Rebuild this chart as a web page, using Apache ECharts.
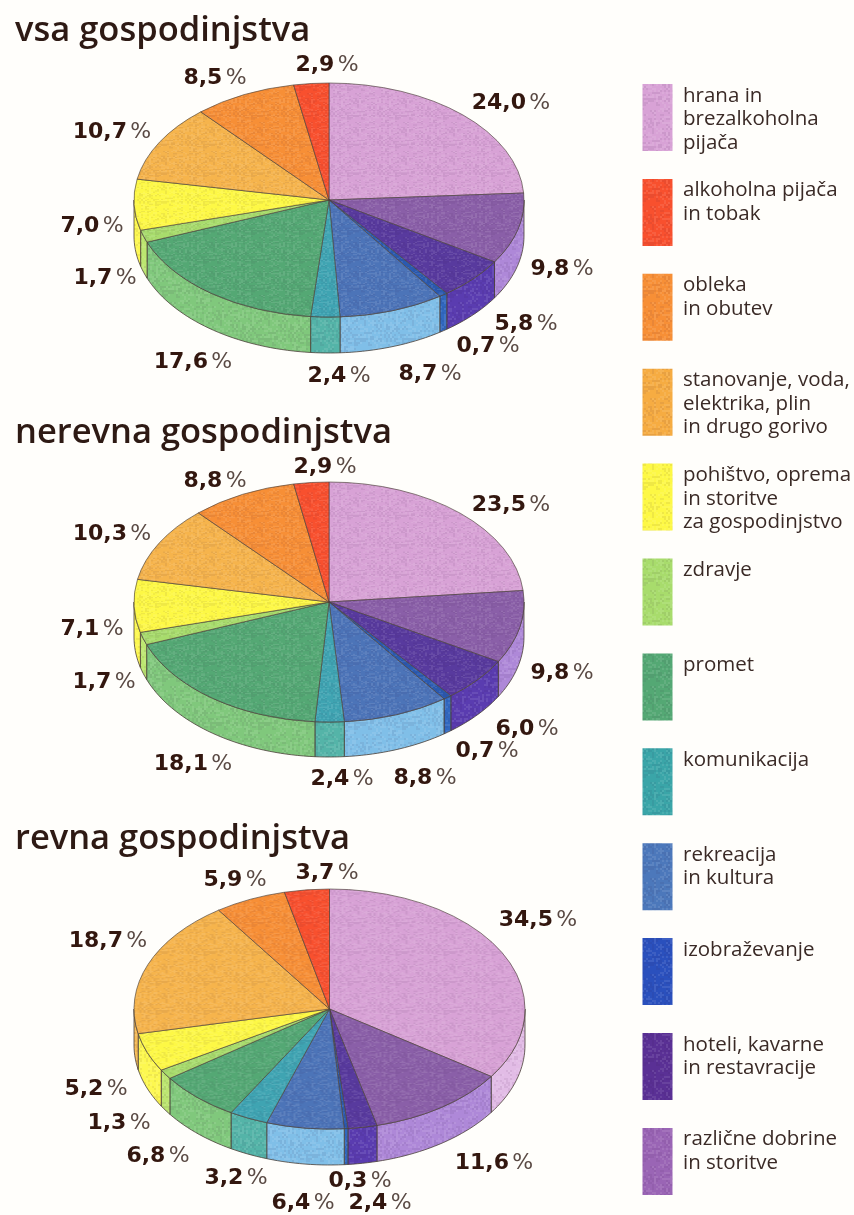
<!DOCTYPE html>
<html><head><meta charset="utf-8">
<style>html,body{margin:0;padding:0;background:#fffefb}#c{width:854px;height:1215px;filter:blur(0.45px)}</style>
<script src="https://cdn.jsdelivr.net/npm/echarts@6/dist/echarts.min.js"></script>
</head><body><div id="c"></div>
<script>
// ---- data ----
const vsaTitle = 'vsa gospodinjstva';
const nerevnaTitle = 'nerevna gospodinjstva';
const revnaTitle = 'revna gospodinjstva';
const vsaValues     = [24.0, 9.8, 5.8, 0.7, 8.7, 2.4, 17.6, 1.7, 7.0, 10.7, 8.5, 2.9];
const nerevnaValues = [23.5, 9.8, 6.0, 0.7, 8.8, 2.4, 18.1, 1.7, 7.1, 10.3, 8.8, 2.9];
const revnaValues   = [34.5, 11.6, 2.4, 0.3, 6.4, 3.2, 6.8, 1.3, 5.2, 18.7, 5.9, 3.7];
const legendLabels = [
 'hrana in\nbrezalkoholna\npijača','alkoholna pijača\nin tobak','obleka\nin obutev',
 'stanovanje, voda,\nelektrika, plin\nin drugo gorivo','pohištvo, oprema\nin storitve\nza gospodinjstvo',
 'zdravje','promet','komunikacija','rekreacija\nin kultura','izobraževanje',
 'hoteli, kavarne\nin restavracije','različne dobrine\nin storitve'];
// ---- styling & layout ----
const topColors  = ['#d8a2d6','#8a5fa8','#583a9e','#2a5ab0','#4c74b8','#3fa4b2','#54a874','#a8dc6c','#fdf845','#f6b44c','#f78f36','#f8502e'];
const wallColors = ['#e2bce6','#ae88d8','#5a3cb0','#3068c0','#80bfe8','#54b4a8','#80c87c','#bce670','#fdf850','#f7bc58','#f89a44','#f8602e'];
const legendColors = ['#d8a2d6','#f8502e','#f78f36','#f6ac42','#fdf845','#a8dc6c','#54a874','#3aa5a8','#4c78bb','#2a50bd','#5a3095','#9a65b5'];
const pies = [
 {cx:329, cy:200, rx:195, ry:117, depth:36, title:vsaTitle, titleY:9, values:vsaValues,
  labels:[[511,103],[562,269],[526,324],[488,346],[430,374],[339,376],[193,362],[105,278],[92,226],[112,132],[215,78],[327,65]]},
 {cx:329, cy:602, rx:195, ry:120, depth:35, title:nerevnaTitle, titleY:411, values:nerevnaValues,
  labels:[[511,505],[562,673],[527,729],[487,751],[425,778],[342,779],[193,764],[104,682],[92,629],[112,534],[215,481],[325,467]]},
 {cx:329.5, cy:1009, rx:195.5, ry:120, depth:36, title:revnaTitle, titleY:817, values:revnaValues,
  labels:[[538,920],[494,1163],[380,1203],[360,1181],[303,1203],[236,1178],[158,1156],[119,1123],[96,1089],[108,941],[235,880],[327,873]]}
];
const inkBold = '#33170f';
const fmt = v => v.toFixed(1).replace('.', ',');

// paper-grain fill: a fixed small tile of light/dark speckle in the given colour
const grainCache = {};
function grain(color){
  if (grainCache[color]) return grainCache[color];
  const size = 48, cv = document.createElement('canvas');
  cv.width = cv.height = size;
  const g = cv.getContext('2d');
  g.fillStyle = color; g.fillRect(0,0,size,size);
  let seed = 12345;
  for (let y=0;y<size;y+=2) for (let x=0;x<size;x+=2){
    seed = (seed*1103515 + 12345) % 2147483648;
    const n = (seed>>8) % 100;
    if (n < 25) g.fillStyle='rgba(60,30,70,0.07)';
    else if (n > 75) g.fillStyle='rgba(255,255,255,0.09)';
    else continue;
    g.fillRect(x,y,2,2);
  }
  return grainCache[color] = {image:cv,repeat:'repeat'};
}

function pieRender(pie){
  const total = pie.values.reduce((a,b)=>a+b,0);
  return function(params, api){
    const i = params.dataIndex, v = api.value(0);
    let before = 0; for(let k=0;k<i;k++) before += pie.values[k];
    const a0 = before/total*2*Math.PI, a1 = (before+v)/total*2*Math.PI;
    const children = [];
    // side wall (only the part facing the viewer)
    const s = Math.max(a0, Math.PI/2), e = Math.min(a1, Math.PI*1.5);
    if (e > s){
      const top=[], bot=[], n=Math.max(2,Math.ceil((e-s)/0.03));
      for(let k=0;k<=n;k++){
        const t=s+(e-s)*k/n, x=pie.cx+pie.rx*Math.sin(t), y=pie.cy-pie.ry*Math.cos(t);
        top.push([x,y]); bot.unshift([x,y+pie.depth]);
      }
      children.push({type:'polygon',shape:{points:top.concat(bot)},
        style:{fill:grain(wallColors[i]),stroke:'#4a4038',lineWidth:0.8}});
    }
    // top face: a circular sector squashed into the tilted ellipse
    children.push({type:'group',x:pie.cx,y:pie.cy,scaleY:pie.ry/pie.rx,children:[
      {type:'sector',shape:{cx:0,cy:0,r:pie.rx,r0:0,startAngle:a0-Math.PI/2,endAngle:a1-Math.PI/2,clockwise:true},
       style:{fill:grain(topColors[i]),stroke:'#4a4038',lineWidth:0.8}}]});
    // value label
    children.push({type:'text',x:pie.labels[i][0],y:pie.labels[i][1],style:{
      text:'{n|'+fmt(v)+'} {p|%}',align:'center',verticalAlign:'middle',
      rich:{n:{fontFamily:'DejaVu Sans',fontWeight:700,fontSize:22,fill:inkBold,color:inkBold},
            p:{fontFamily:'DejaVu Sans',fontWeight:400,fontSize:22,fill:'#5a4a44',color:'#5a4a44'}}
    }});
    return {type:'group',children};
  };
}
const series = pies.map(p=>({type:'custom',coordinateSystem:'none',silent:true,animation:false,
  renderItem:pieRender(p),data:p.values.map(v=>[v])}));
series.push({type:'custom',coordinateSystem:'none',silent:true,animation:false,
  data:legendLabels.map((l,i)=>[i]),
  renderItem(params,api){
    const i=api.value(0), y=84+94.9*i;
    return {type:'group',children:[
      {type:'rect',shape:{x:642.5,y:y,width:30,height:67},style:{fill:grain(legendColors[i])}},
      {type:'text',x:683,y:y,style:{text:legendLabels[i],fontFamily:'Open Sans',fontSize:20.5,lineHeight:23.5,fill:'#3a2a26',align:'left',verticalAlign:'top'}}
    ]};
  }});
const chart = echarts.init(document.getElementById('c'),null,{renderer:'canvas'});
chart.setOption({
  animation:false,
  backgroundColor:'#fffefb',
  title:pies.map(p=>({text:p.title,left:10,top:p.titleY,textStyle:{fontFamily:'Open Sans',fontWeight:600,fontSize:34.5,color:'#2e1a14'}})),
  series
});
</script></body></html>
